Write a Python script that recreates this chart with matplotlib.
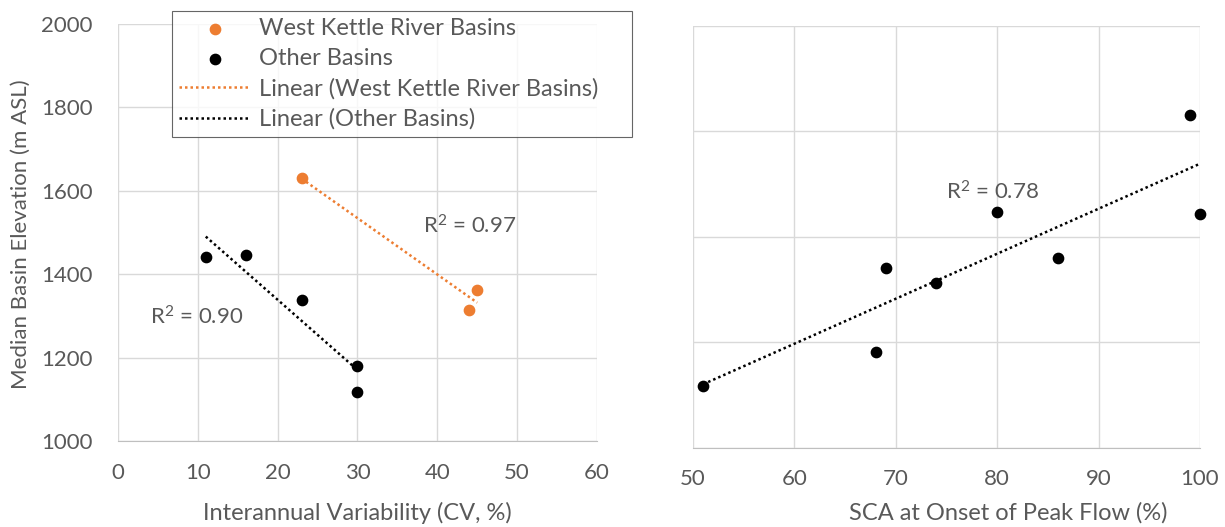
import matplotlib.pyplot as plt
import numpy as np

plt.rcParams['font.family'] = ['Lato', 'DejaVu Sans']
plt.rcParams['mathtext.fontset'] = 'custom'
plt.rcParams['mathtext.rm'] = 'Lato'
plt.rcParams['mathtext.default'] = 'rm'

# left panel data
wk_cv = [23, 45, 44]
wk_elev = [1630, 1361, 1314]
other_cv = [11, 16, 23, 30, 30]
other_elev = [1442, 1445, 1339, 1180, 1118]

# right panel data
sca = [51, 68, 69, 74, 80, 86, 99, 100]
sca_elev = [1147, 1228, 1425, 1391, 1558, 1450, 1788, 1553]

left_xticks = [0, 10, 20, 30, 40, 50, 60]
left_yticks = [1000, 1200, 1400, 1600, 1800, 2000]
right_xticks = [50, 60, 70, 80, 90, 100]
right_yticks = [1000, 1250, 1500, 1750, 2000]

orange = '#ED7D31'
txt = '#595959'
grid = '#d9d9d9'
dots = (0, (1, 1.2))


def style(ax):
    ax.grid(True, color=grid, linewidth=1)
    ax.set_axisbelow(True)
    for s in ['top', 'right', 'left']:
        ax.spines[s].set_visible(False)
    ax.spines['bottom'].set_color('#bfbfbf')
    ax.tick_params(length=0, colors=txt, labelsize=16)
    ax.tick_params(axis='x', pad=16)
    ax.tick_params(axis='y', pad=18)


def trend(ax, x, y, color):
    k, b = np.polyfit(x, y, 1)
    xx = np.array([min(x), max(x)])
    return ax.plot(xx, k * xx + b, linestyle=dots, color=color, linewidth=1.8)[0]


fig = plt.figure(figsize=(12.25, 5.27), dpi=100)
ax1 = fig.add_axes([0.0963, 0.1632, 0.391, 0.792])
ax2 = fig.add_axes([0.5657, 0.1505, 0.4139, 0.8004])

style(ax1)
p1 = ax1.scatter(wk_cv, wk_elev, s=55, color=orange, zorder=3)
p2 = ax1.scatter(other_cv, other_elev, s=55, color='black', zorder=3)
l1 = trend(ax1, wk_cv, wk_elev, orange)
l2 = trend(ax1, other_cv, other_elev, 'black')
ax1.set_xlim(0, 60)
ax1.set_ylim(1000, 2000)
ax1.set_xticks(left_xticks)
ax1.set_yticks(left_yticks)
ax1.set_xlabel('Interannual Variability (CV, %)', color=txt, fontsize=17, va='center')
ax1.xaxis.set_label_coords(0.5, -0.1725)
ax1.set_ylabel('Median Basin Elevation (m ASL)', color=txt, fontsize=16, va='center')
ax1.yaxis.set_label_coords(-0.2025, 0.496)
ax1.text(38.2, 1516, 'R$^2$ = 0.97', color=txt, fontsize=16, va='center')
ax1.text(4.0, 1298, 'R$^2$ = 0.90', color=txt, fontsize=16, va='center')

style(ax2)
ax2.scatter(sca, sca_elev, s=55, color='black', zorder=3, clip_on=False)
trend(ax2, sca, sca_elev, 'black')
ax2.set_xlim(50, 100)
ax2.set_ylim(1000, 2000)
ax2.set_xticks(right_xticks)
ax2.set_yticks(right_yticks)
ax2.set_yticklabels([])
ax2.tick_params(axis='x', pad=15)
ax2.text(74.95, 1607, 'R$^2$ = 0.78', color=txt, fontsize=16, va='center')
ax2.set_xlabel('SCA at Onset of Peak Flow (%)', color=txt, fontsize=17, va='center')
ax2.xaxis.set_label_coords(0.621, -0.155)

leg = fig.legend([p1, p2, l1, l2],
                 ['West Kettle River Basins', 'Other Basins',
                  'Linear (West Kettle River Basins)', 'Linear (Other Basins)'],
                 loc='upper left', mode='expand',
                 bbox_to_anchor=(172 / 1225, 1 - 137 / 527, 460 / 1225, 126 / 527),
                 fontsize=17, frameon=True, fancybox=False, labelspacing=0.38,
                 handlelength=3.0, handletextpad=0.4, borderpad=0.3,
                 borderaxespad=0)
leg.get_frame().set_edgecolor('#404040')
leg.get_frame().set_linewidth(0.8)
for t in leg.get_texts():
    t.set_color(txt)

plt.savefig('out.png', dpi=100)
